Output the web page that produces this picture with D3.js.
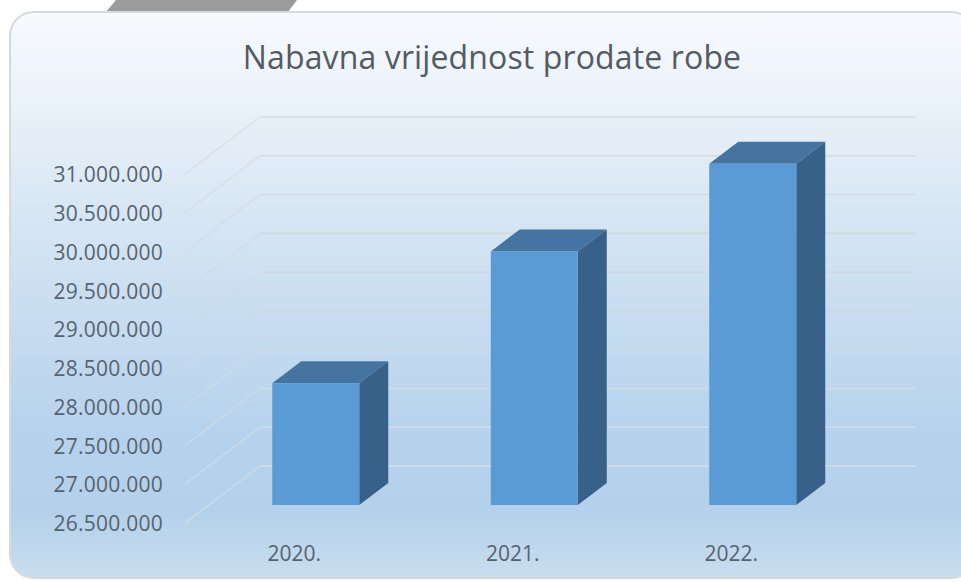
<!DOCTYPE html>
<html><head><meta charset="utf-8">
<script src="https://cdn.jsdelivr.net/npm/d3@7/dist/d3.min.js"></script>
<style>html,body{margin:0;padding:0;background:#fff}svg{display:block}
text{font-family:"Open Sans",sans-serif}</style></head>
<body><svg id="c" width="961" height="582"></svg>
<script>
const titleText = "Nabavna vrijednost prodate robe";
const categories = ["2020.", "2021.", "2022."];
const values = [28070000, 29770000, 30900000];
const tickValues = [26500000,27000000,27500000,28000000,28500000,29000000,29500000,30000000,30500000,31000000];

const W = 961, H = 582;
const plot = {left:185, right:840.5, top:174, bottom:523};
const wall = {dx:75, dy:-57};      // depth of the whole 3D floor
const gap = {dx:21.5, dy:-18};     // front of floor to front of bar
const barDepth = {dx:29, dy:-22};
const barW = 87;

const svg = d3.select("#c");
const defs = svg.append("defs");
const bg = defs.append("linearGradient").attr("id","bg").attr("x1",0).attr("x2",0).attr("y1",0).attr("y2",1);
[[0,"#f8fbfe"],[0.2,"#e6eff8"],[0.45,"#cfe1f2"],[0.75,"#b6d2ec"],[0.88,"#b4d0ea"],[1,"#c9deef"]]
  .forEach(d=>bg.append("stop").attr("offset",d[0]).attr("stop-color",d[1]));
const gl = defs.append("linearGradient").attr("id","gl").attr("gradientUnits","userSpaceOnUse")
  .attr("x1",0).attr("x2",0).attr("y1",110).attr("y2",530);
[[0,"#d6dce3"],[0.5,"#cdd8e3"],[1,"#d6e1ea"]]
  .forEach(d=>gl.append("stop").attr("offset",d[0]).attr("stop-color",d[1]));

svg.append("path").attr("d","M106,12 L116,0 L297,0 L288,12 Z").attr("fill","#9b9b9b");
svg.append("rect").attr("x",10).attr("y",12).attr("width",965).attr("height",566).attr("rx",24)
  .attr("fill","url(#bg)").attr("stroke","#d6dadd").attr("stroke-width",2);

const x = d3.scaleBand().domain(categories).range([plot.left, plot.right]);
const y = d3.scaleLinear().domain([tickValues[0], tickValues[tickValues.length-1]]).range([plot.bottom, plot.top]);
const fmt = d3.formatLocale({decimal:",",thousands:".",grouping:[3],currency:["",""]}).format(",d");

// gridlines: side wall (faint) + back wall
const grid = svg.append("g").attr("fill","none").attr("stroke","url(#gl)").attr("stroke-width",1.6);
grid.selectAll("path.side").data(tickValues).join("path").attr("class","side").attr("stroke-opacity",0.65)
  .attr("d",v=>`M${plot.left},${y(v)}L${plot.left+wall.dx},${y(v)+wall.dy}`);
grid.selectAll("path.back").data(tickValues).join("path").attr("class","back")
  .attr("d",v=>`M${plot.left+wall.dx},${y(v)+wall.dy}L${plot.right+wall.dx},${y(v)+wall.dy}`);

// bars
const barX = c => x(c)+x.bandwidth()/2-barW/2+gap.dx;
const barBase = y(tickValues[0])+gap.dy;
const barTop = v => y(v)+gap.dy;
const bars = svg.append("g").selectAll("g").data(categories.map((c,i)=>({c,v:values[i]}))).join("g");
bars.append("path").attr("fill","#44749f").attr("d",d=>{
  const l=barX(d.c),t=barTop(d.v);
  return `M${l},${t}L${l+barW},${t}L${l+barW+barDepth.dx},${t+barDepth.dy}L${l+barDepth.dx},${t+barDepth.dy}Z`;});
bars.append("path").attr("fill","#376189").attr("d",d=>{
  const r=barX(d.c)+barW,t=barTop(d.v);
  return `M${r},${t}L${r+barDepth.dx},${t+barDepth.dy}L${r+barDepth.dx},${barBase+barDepth.dy}L${r},${barBase}Z`;});
bars.append("rect").attr("fill","#5b9bd5").attr("x",d=>barX(d.c)).attr("y",d=>barTop(d.v))
  .attr("width",barW).attr("height",d=>barBase-barTop(d.v));

// axes
const yAxis = svg.append("g").attr("transform","translate(171,1)")
  .call(d3.axisLeft(y).tickValues(tickValues).tickFormat(fmt).tickSize(0).tickPadding(8));
yAxis.select(".domain").remove();
yAxis.selectAll("text").attr("font-size",21).attr("fill","#56636e").style("font-family",'"Open Sans",sans-serif').attr("letter-spacing","0.25");
const xAxis = svg.append("g").attr("transform","translate(0,553)")
  .call(d3.axisBottom(x).tickSize(0).tickPadding(0));
xAxis.select(".domain").remove();
xAxis.selectAll("text").attr("font-size",21).attr("fill","#56636e").style("font-family",'"Open Sans",sans-serif').attr("dy","0.4em");

svg.append("text").text(titleText).attr("x",492).attr("y",69).attr("text-anchor","middle")
  .attr("font-size",32).attr("letter-spacing","0.13").attr("fill","#535b63");
</script></body></html>
